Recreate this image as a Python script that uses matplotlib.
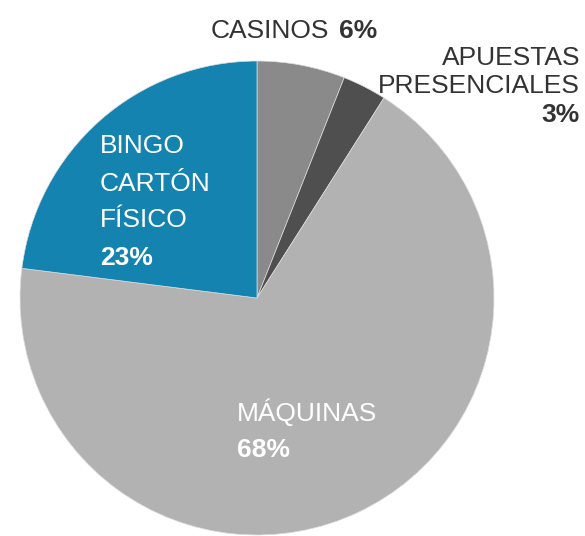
import matplotlib.pyplot as plt

# Datos del gráfico
categorias = ['CASINOS', 'APUESTAS PRESENCIALES', 'MÁQUINAS', 'BINGO CARTÓN FÍSICO']
valores = [6, 3, 68, 23]
colores = ['#8a8a8a', '#4f4f4f', '#b2b2b2', '#1583b0']

W, H = 585, 536
plt.rcParams['font.family'] = ['Liberation Sans', 'DejaVu Sans']

fig = plt.figure(figsize=(W / 100, H / 100), dpi=100)
ax = fig.add_axes([0, 0, 1, 1])

ax.pie(valores, colors=colores, startangle=90, counterclock=False,
       center=(257, H - 298), radius=237,
       wedgeprops=dict(linewidth=0.5, edgecolor='#dddddd'))

# la tarta cambia los límites, se fijan después
ax.set_xlim(0, W)
ax.set_ylim(0, H)
ax.set_aspect('equal')
ax.axis('off')


def etiqueta(x, y, s, color, bold=False, ha='left'):
    # y en píxeles desde arriba, línea base
    ax.text(x, H - y, s, color=color, fontsize=19, ha=ha, va='baseline',
            fontweight='bold' if bold else 'normal')


oscuro = '#333333'
# Casinos
etiqueta(211, 38, 'CASINOS', oscuro)
etiqueta(377, 38, f'{valores[0]}%', oscuro, bold=True, ha='right')
# Apuestas presenciales
etiqueta(580, 65, 'APUESTAS', oscuro, ha='right')
etiqueta(580, 93, 'PRESENCIALES', oscuro, ha='right')
etiqueta(580, 122, f'{valores[1]}%', oscuro, bold=True, ha='right')
# Bingo
etiqueta(100, 153, 'BINGO', 'white')
etiqueta(100, 191, 'CARTÓN', 'white')
etiqueta(100, 227, 'FÍSICO', 'white')
etiqueta(100, 265, f'{valores[3]}%', 'white', bold=True)
# Máquinas
etiqueta(237, 421, 'MÁQUINAS', 'white')
etiqueta(237, 457, f'{valores[2]}%', 'white', bold=True)

fig.savefig('out.png', dpi=100, facecolor='white')
